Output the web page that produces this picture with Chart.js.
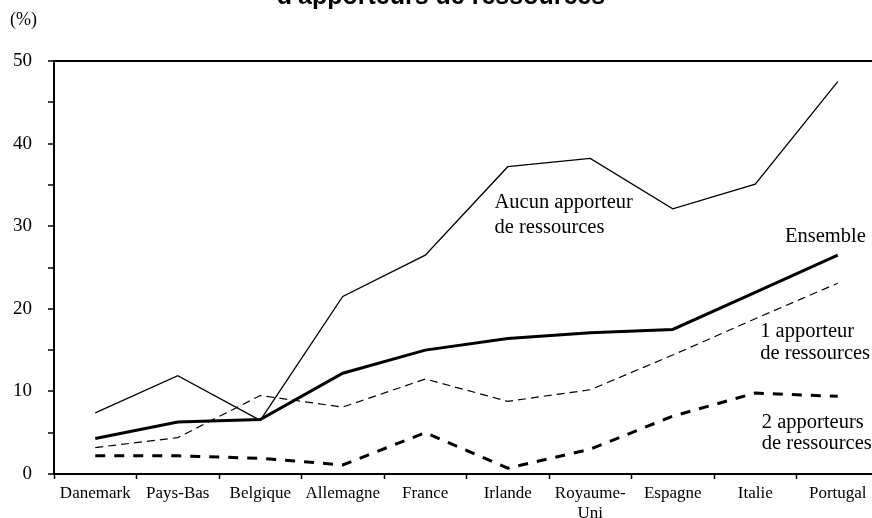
<!DOCTYPE html>
<html>
<head>
    <title>Apporteurs de ressources</title>
    <script src="https://cdn.jsdelivr.net/npm/chart.js"></script>
    <style>
        body {
            margin: 0;
            overflow: hidden;
            background: #ffffff;
        }

        .chart-container {
            position: relative;
            width: 882px;
            height: 518px;
        }
    </style>
</head>
<body>
    <div class="chart-container">
        <canvas id="resources-chart"></canvas>
    </div>

    <script>
        const countries = ['Danemark', 'Pays-Bas', 'Belgique', 'Allemagne', 'France', 'Irlande', ['Royaume-', 'Uni'], 'Espagne', 'Italie', 'Portugal'];
        const aucun = [7.4, 11.9, 6.5, 21.5, 26.5, 37.2, 38.2, 32.1, 35.1, 47.5];
        const ensemble = [4.3, 6.3, 6.6, 12.2, 15.0, 16.4, 17.1, 17.5, 22.0, 26.5];
        const unApporteur = [3.2, 4.4, 9.5, 8.1, 11.5, 8.8, 10.2, 14.4, 18.8, 23.1];
        const deuxApporteurs = [2.2, 2.2, 1.9, 1.1, 5.0, 0.7, 3.0, 7.0, 9.8, 9.4];
        const yTicks = [0, 10, 20, 30, 40, 50];

        const serif = '"Liberation Serif", "Times New Roman", serif';

        // text next to the lines, anchored in category / value units
        const lineLabels = [
            { lines: ['Aucun apporteur', 'de ressources'], x: 4.84, y: [32.2, 29.2] },
            { lines: ['Ensemble'], x: 8.36, y: [28.1] },
            { lines: ['1 apporteur', 'de ressources'], x: 8.06, y: [16.6, 13.9] },
            { lines: ['2 apporteurs', 'de ressources'], x: 8.08, y: [5.6, 3.0] }
        ];

        const textPlugin = {
            id: 'textPlugin',
            afterDraw(chart) {
                const ctx = chart.ctx;
                const xs = chart.scales.x;
                const ys = chart.scales.y;
                ctx.save();
                ctx.fillStyle = '#000';

                ctx.font = 'bold 25px "Liberation Sans", Arial, sans-serif';
                ctx.textAlign = 'center';
                ctx.textBaseline = 'alphabetic';
                ctx.fillText("d'apporteurs de ressources", 441, 4);

                ctx.font = '18px ' + serif;
                ctx.textAlign = 'left';
                ctx.fillText('(%)', 10, 25);

                ctx.font = '20.5px ' + serif;
                lineLabels.forEach(l => {
                    const px = xs.getPixelForValue(l.x);
                    l.lines.forEach((t, i) => {
                        ctx.fillText(t, px, ys.getPixelForValue(l.y[i]));
                    });
                });
                ctx.restore();
            }
        };

        const ctx = document.getElementById('resources-chart').getContext('2d');
        new Chart(ctx, {
            type: 'line',
            data: {
                labels: countries,
                datasets: [{
                    label: 'Aucun apporteur de ressources',
                    data: aucun,
                    borderColor: '#000',
                    borderWidth: 1.3
                }, {
                    label: 'Ensemble',
                    data: ensemble,
                    borderColor: '#000',
                    borderWidth: 3
                }, {
                    label: '1 apporteur de ressources',
                    data: unApporteur,
                    borderColor: '#000',
                    borderWidth: 1.2,
                    borderDash: [8, 5]
                }, {
                    label: '2 apporteurs de ressources',
                    data: deuxApporteurs,
                    borderColor: '#000',
                    borderWidth: 3,
                    borderDash: [10, 9]
                }]
            },
            options: {
                responsive: true,
                maintainAspectRatio: false,
                animation: false,
                elements: {
                    point: { radius: 0 },
                    line: { tension: 0, fill: false }
                },
                layout: {
                    padding: { top: 61, right: 3, left: 0, bottom: 0 }
                },
                plugins: {
                    legend: { display: false },
                    title: { display: false },
                    tooltip: { enabled: false }
                },
                scales: {
                    x: {
                        offset: true,
                        grid: {
                            offset: true,
                            drawOnChartArea: false,
                            tickLength: 5,
                            tickColor: '#000',
                            tickWidth: 1.5
                        },
                        border: { color: '#000', width: 2 },
                        ticks: {
                            color: '#000',
                            padding: 5,
                            maxRotation: 0,
                            autoSkip: false,
                            font: { family: serif, size: 17, lineHeight: 1.15 }
                        },
                        afterFit(scale) { scale.height = 44; }
                    },
                    y: {
                        min: 0,
                        max: 50,
                        grid: {
                            color: c => c.tick && c.tick.value === 50 ? '#000' : 'transparent',
                            lineWidth: 2,
                            tickLength: 6,
                            tickColor: '#000',
                            tickWidth: 1.5
                        },
                        border: { color: '#000', width: 2 },
                        ticks: {
                            stepSize: 5,
                            color: '#000',
                            padding: 16,
                            callback: v => yTicks.includes(v) ? String(v) : '',
                            font: { family: serif, size: 19 }
                        },
                        afterFit(scale) { scale.width = 54; }
                    }
                }
            },
            plugins: [textPlugin]
        });
    </script>
</body>
</html>
